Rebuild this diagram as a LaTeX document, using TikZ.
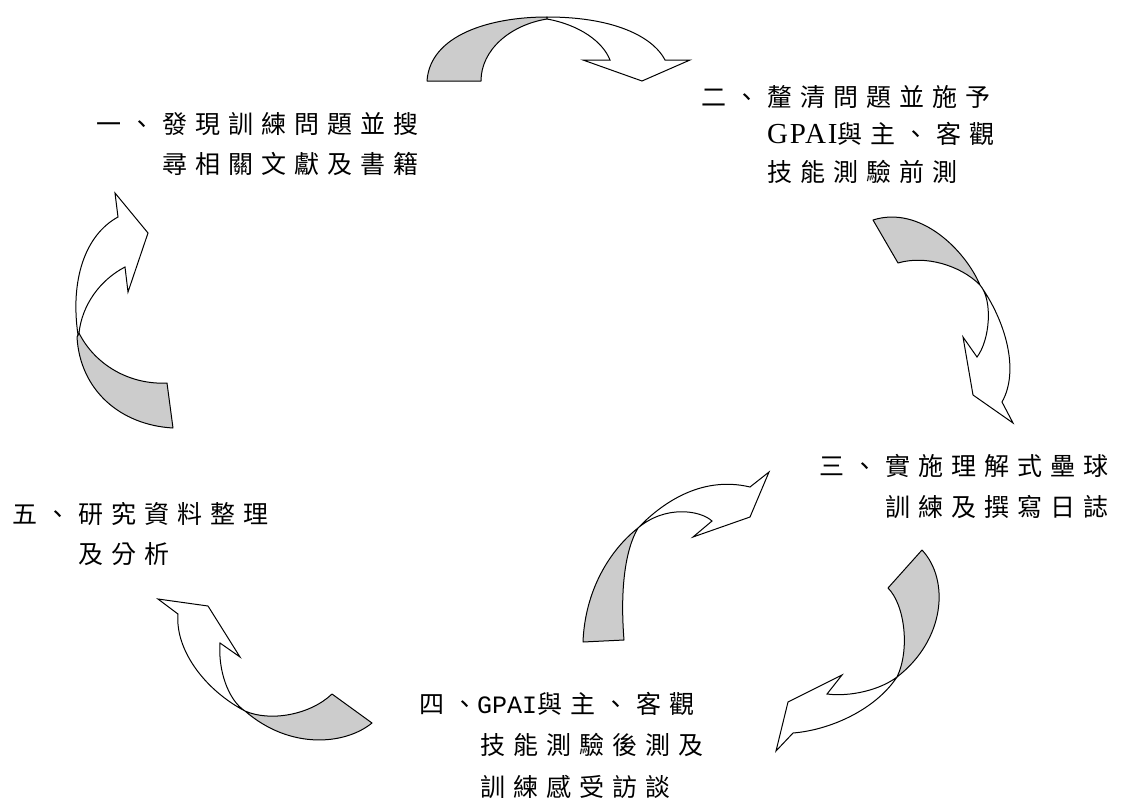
\documentclass[tikz,border=0pt]{standalone}
\usepackage{fontspec}
\newfontfamily\cjk{Noto Sans CJK TC}[LetterSpace=32]
\newfontfamily\lser{Liberation Serif}[LetterSpace=6]
\newfontfamily\lmono{Liberation Mono}
\begin{document}
\begin{tikzpicture}[x=1pt,y=-1pt,
  back/.style={draw=black, fill=black!20, line width=1pt, line join=round},
  front/.style={draw=black, fill=white, line width=1pt, line join=miter},
  lbl/.style={anchor=north west, inner sep=0pt, align=left}]
\useasboundingbox (0,0) rectangle (1121,798);
% texts
\node[lbl, font=\cjk\fontsize{25}{40}\selectfont] (t1) at (96,112)
  {一、發現訓練問題並搜\\\hspace*{66pt}尋相關文獻及書籍};
\node[lbl, font=\cjk\fontsize{25}{37.5}\selectfont] (t2) at (701,85)
  {二、釐清問題並施予\\\hspace*{66pt}{\lser\fontsize{29}{37.5}\selectfont GPAI}與主、客觀\\\hspace*{66pt}技能測驗前測};
\node[lbl, font=\cjk\fontsize{25}{41}\selectfont] (t3) at (819,454)
  {三、實施理解式壘球\\\hspace*{66pt}訓練及撰寫日誌};
\node[lbl, font=\cjk\fontsize{25}{41.5}\selectfont] (t4) at (419,692)
  {四、{\lmono GPAI}與主、客觀\\\hspace*{61pt}技能測驗後測及\\\hspace*{61pt}訓練感受訪談};
\node[lbl, font=\cjk\fontsize{25}{40}\selectfont] (t5) at (12,502)
  {五、研究資料整理\\\hspace*{66pt}及分析};
% arrow A (top)
\draw[back] (427,81) .. controls (430,35) and (490,17) .. (547,17)
  -- (547,19) .. controls (510,25) and (481,50) .. (481,81) -- cycle;
\draw[front] (547,17) .. controls (620,17) and (655,40) .. (665,60)
  -- (690,60) -- (642,81) -- (583,60) -- (610,60)
  .. controls (603,42) and (580,25) .. (547,19) -- cycle;
% arrow B (right)
\draw[back] (873,220) .. controls (920,205) and (965,250) .. (980,285)
  .. controls (960,265) and (925,255) .. (898,263) -- cycle;
\draw[front] (980,285) .. controls (1005,320) and (1020,370) .. (1002,402)
  -- (1013,423) -- (973,395) -- (963,337) -- (977,357)
  .. controls (990,340) and (993,300) .. (980,285) -- cycle;
% arrow C (bottom right)
\draw[back] (922,550) .. controls (950,580) and (945,640) .. (897,677)
  .. controls (910,650) and (905,605) .. (888,588) -- cycle;
\draw[front] (897,677) .. controls (880,690) and (850,697) .. (827,694)
  -- (842,675) -- (788,702) -- (776,751) -- (793,733)
  .. controls (830,730) and (875,710) .. (897,677) -- cycle;
% arrow D (middle)
\draw[back] (638,528) .. controls (610,550) and (585,590) .. (583,642)
  -- (624,640) .. controls (620,590) and (625,550) .. (638,528) -- cycle;
\draw[front] (638,528) .. controls (660,505) and (700,475) .. (750,487)
  -- (769,472) -- (750,517) -- (693,537) -- (712,521)
  .. controls (700,510) and (665,505) .. (638,528) -- cycle;
% arrow E (bottom left)
\draw[back] (245,711) .. controls (270,722) and (310,715) .. (332,694)
  -- (372,723) .. controls (345,745) and (290,750) .. (245,711) -- cycle;
\draw[front] (245,711) .. controls (205,690) and (175,650) .. (178,614)
  -- (158,599) -- (208,606) -- (240,657) -- (220,643)
  .. controls (218,670) and (228,700) .. (245,711) -- cycle;
% arrow F (left)
\draw[back] (79,333) .. controls (95,365) and (130,385) .. (167,383)
  -- (173,428) .. controls (120,425) and (80,390) .. (77,337) -- cycle;
\draw[front] (78,335) .. controls (70,280) and (85,235) .. (118,217)
  -- (115,193) -- (148,233) -- (128,292) -- (125,267)
  .. controls (100,280) and (82,305) .. (79,333) -- cycle;
\end{tikzpicture}
\end{document}
